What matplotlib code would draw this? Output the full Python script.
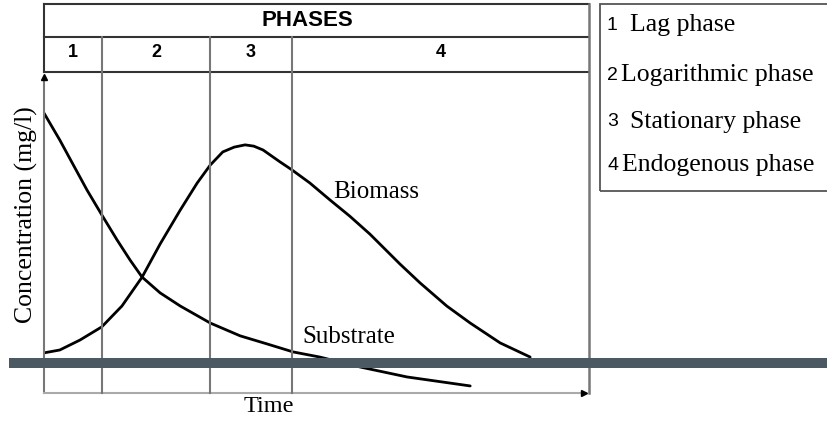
"""
Growth phases: biomass and substrate concentration over time
"""
import matplotlib
matplotlib.use('Agg')
import matplotlib.pyplot as plt
from matplotlib.patches import Rectangle

# data (arbitrary units)
substrate_t = [0.0, 0.29, 0.53, 0.79, 1.06, 1.34, 1.58, 1.80, 2.13, 2.50, 3.05,
               3.60, 4.09, 4.57, 5.06, 5.80, 6.66, 7.82]
substrate_c = [8.72, 7.88, 7.13, 6.32, 5.55, 4.77, 4.14, 3.61, 3.12, 2.71, 2.18,
               1.78, 1.53, 1.28, 1.12, 0.81, 0.50, 0.22]

biomass_t = [0.0, 0.29, 0.66, 1.06, 1.43, 1.80, 2.13, 2.50, 2.81, 3.05, 3.28, 3.49,
             3.69, 3.85, 4.02, 4.33, 4.55, 4.88, 5.25, 5.61, 5.98, 6.53, 6.90, 7.39,
             7.82, 8.37, 8.92]
biomass_c = [1.25, 1.34, 1.65, 2.06, 2.71, 3.61, 4.64, 5.70, 6.54, 7.10, 7.51, 7.66,
             7.73, 7.69, 7.57, 7.20, 6.95, 6.54, 6.01, 5.51, 4.95, 4.02, 3.43, 2.71,
             2.18, 1.56, 1.12]

phase_edges = [0.0, 1.06, 3.05, 4.55, 10.0]
phase_numbers = ['1', '2', '3', '4']
legend_numbers = ['1', '2', '3', '4']
legend_names = ['Lag phase', 'Logarithmic phase', 'Stationary phase', 'Endogenous phase']

W, H = 828, 428
serif = ['Liberation Serif', 'DejaVu Serif']
narrow = ['Liberation Sans Narrow', 'Liberation Sans', 'DejaVu Sans']

fig = plt.figure(figsize=(W / 100, H / 100), dpi=100)
ax = fig.add_axes([44 / W, (H - 393) / H, (589 - 44) / W, (393 - 72) / H])
ax.set_xlim(0, 10)
ax.set_ylim(0, 10)
for s in ax.spines.values():
    s.set_visible(False)
ax.set_xticks([])
ax.set_yticks([])

# curves
ax.plot(substrate_t, substrate_c, color='black', lw=2.0,
        solid_capstyle='round', solid_joinstyle='round')
ax.plot(biomass_t, biomass_c, color='black', lw=2.0,
        solid_capstyle='round', solid_joinstyle='round')

# axes with arrows
ax.plot([0, 0], [0, 9.84], color='#777777', lw=1.5, clip_on=False)
ax.plot([0], [9.84], marker='^', color='black', ms=5, clip_on=False)
ax.plot([0, 9.95], [0, 0], color='#aaaaaa', lw=1.5, clip_on=False)
ax.plot([9.9], [0], marker='>', color='black', ms=5, clip_on=False)

# header table
y_row = 10.0
y_mid = 11.09
y_top = 12.12
for y in (y_row, y_mid, y_top):
    ax.plot([0, 10], [y, y], color='#333333', lw=1.5, clip_on=False)
ax.plot([0, 0], [y_row, y_top], color='#333333', lw=1.5, clip_on=False)
ax.plot([10, 10], [0, y_top], color='#777777', lw=1.8, clip_on=False)
for x in phase_edges[1:-1]:
    ax.plot([x, x], [0, y_mid], color='#777777', lw=1.5, clip_on=False)

ax.text(4.84, (y_mid + y_top) / 2, 'PHASES', ha='center', va='center',
        fontsize=16, fontweight='bold', family=narrow)
for i, num in enumerate(phase_numbers):
    xc = (phase_edges[i] + phase_edges[i + 1]) / 2
    ax.text(xc, (y_row + y_mid) / 2 + 0.05, num, ha='center', va='center',
            fontsize=13, fontweight='bold', family=narrow)

# curve labels
ax.text(5.30, 6.07, 'Biomass', ha='left', va='baseline', fontsize=18, family=serif)
ax.text(4.75, 1.56, 'Substrate', ha='left', va='baseline', fontsize=18, family=serif)

# axis labels
fig.text(269 / W, 1 - 406 / H, 'Time', ha='center', va='center', fontsize=17.5, family=serif)
fig.text(26 / W, 1 - 215 / H, 'Concentration (mg/l)', ha='center', va='center',
         rotation=90, fontsize=18.5, family=serif)

# legend box
fig.add_artist(Rectangle((600 / W, 1 - 191 / H), 240 / W, 187 / H, transform=fig.transFigure,
                         fill=False, edgecolor='#555555', lw=1.3))
leg_y = [25, 75, 122, 165]
leg_xtext = [630, 621, 630, 622]
for num, name, y, xt in zip(legend_numbers, legend_names, leg_y, leg_xtext):
    fig.text(607 / W, 1 - y / H, num, ha='left', va='center', fontsize=14, family=narrow)
    fig.text(xt / W, 1 - y / H, name, ha='left', va='center', fontsize=18.5, family=serif)

# dark band across the figure
fig.add_artist(Rectangle((9 / W, 1 - 368 / H), 1, 10 / H, transform=fig.transFigure,
                         facecolor='#4b5a62', edgecolor='none', zorder=10))

fig.savefig('out.png', dpi=100)
